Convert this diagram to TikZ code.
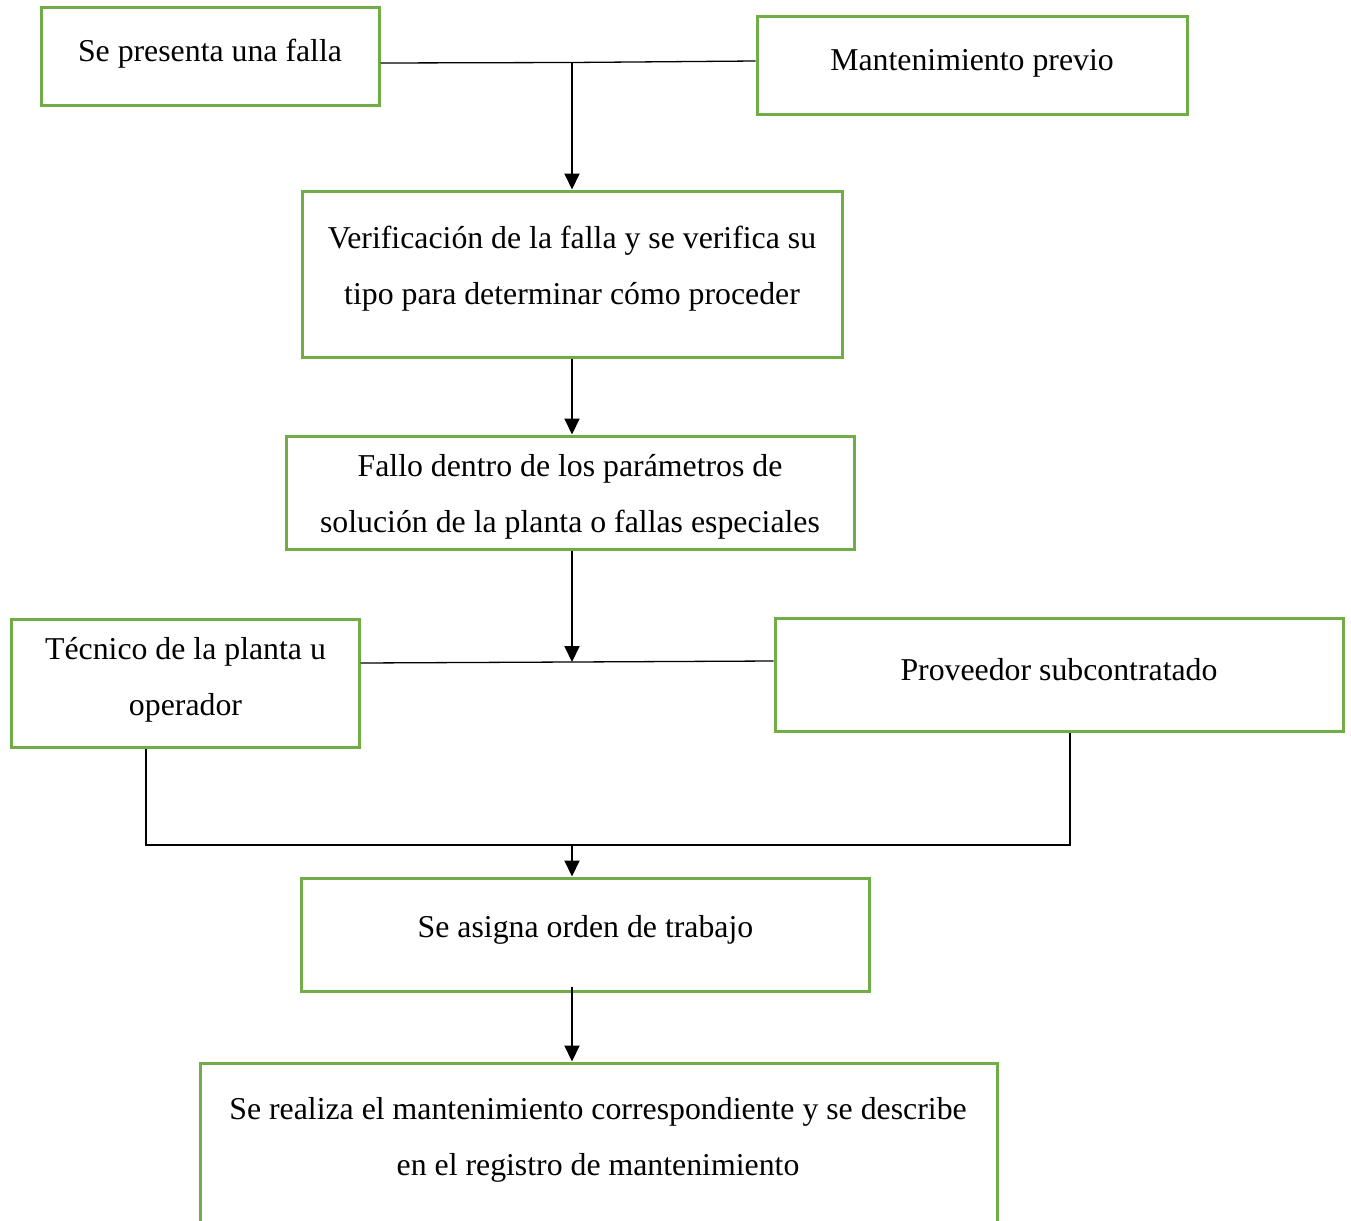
\documentclass[tikz,border=0pt]{standalone}
\usepackage{fontspec}
\setmainfont{Liberation Serif}
\usetikzlibrary{arrows.meta}
\definecolor{boxgreen}{HTML}{70AD47}
\begin{document}
\begin{tikzpicture}[x=1pt,y=-1pt,
  frame/.style={draw=boxgreen, line width=3pt, rectangle, inner sep=0pt},
  txt/.style={font=\fontsize{31.8}{56}\selectfont, align=center, inner sep=0pt, text=black, yshift=-3pt},
  conn/.style={line width=1.3pt, black},
  arr/.style={line width=2pt, black, -{Triangle[length=16pt,width=15pt]}}]
\useasboundingbox (0,0) rectangle (1351,1220);
\clip (0,0) rectangle (1351,1220);
% boxes
\node[frame, minimum width=338pt, minimum height=98pt] (b1) at (210,57) {};
\node[frame, minimum width=430pt, minimum height=98pt] (b2) at (972,66) {};
\node[frame, minimum width=540pt, minimum height=166pt] (b3) at (572,274) {};
\node[frame, minimum width=568pt, minimum height=113pt] (b4) at (570,492.5) {};
\node[frame, minimum width=348pt, minimum height=128pt] (b5) at (185,683) {};
\node[frame, minimum width=568pt, minimum height=113pt] (b6) at (1059,674.5) {};
\node[frame, minimum width=568pt, minimum height=113pt] (b7) at (585,934.5) {};
\node[frame, minimum width=797pt, minimum height=200pt] (b8) at (598.5,1163) {};
% texts
\node[txt] (t1) at (210,51) {Se presenta una falla};
\node[txt] (t2) at (972,60) {Mantenimiento previo};
\node[txt] (t3) at (572,266) {Verificación de la falla y se verifica su\\tipo para determinar cómo proceder};
\node[txt] (t4) at (570,493.5) {Fallo dentro de los parámetros de\\solución de la planta o fallas especiales};
\node[txt] (t5) at (185.5,677) {Técnico de la planta u\\operador};
\node[txt] (t6) at (1059,667) {Proveedor subcontratado};
\node[txt] (t7) at (585.5,927) {Se asigna orden de trabajo};
\node[txt] (t8) at (598,1136.5) {Se realiza el mantenimiento correspondiente y se describe\\en el registro de mantenimiento};
% junctions
\coordinate (j1) at (572,62.5);
\coordinate (j2) at (572,662);
\coordinate (j3) at (572,845);
% connectors
\draw[conn] ([yshift=-6pt]b1.east) -- (j1) -- ([yshift=5pt]b2.west);
\draw[arr] (j1) -- (j1 |- b3.north);
\draw[arr] (j1 |- b3.south) -- (j1 |- b4.north);
\draw[conn] ([yshift=20pt]b5.east) -- (j2) -- ([yshift=13.5pt]b6.west);
\draw[arr] (j2 |- b4.south) -- (j2);
\draw[conn] ([xshift=-39pt]b5.south) |- (j3) -| ([xshift=11pt]b6.south);
\draw[arr] (j3) -- (j3 |- b7.north);
\draw[arr] ([yshift=6pt]j3 |- b7.south) -- (j3 |- b8.north);
\end{tikzpicture}
\end{document}
